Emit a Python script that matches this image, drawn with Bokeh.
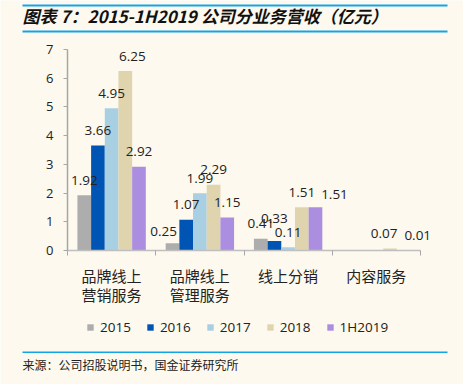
from bokeh.plotting import figure
from bokeh.models import (ColumnDataSource, FixedTicker, Range1d, Legend, LegendItem,
                          Label, BoxAnnotation)
from bokeh.embed import file_html
from bokeh.resources import INLINE
from bokeh.core.properties import value

# ---- data ----
categories = ["品牌线上\n营销服务", "品牌线上\n管理服务", "线上分销", "内容服务"]
series = ["2015", "2016", "2017", "2018", "1H2019"]
v2015 = [1.92, 0.25, 0.41, None]
v2016 = [3.66, 1.07, 0.33, None]
v2017 = [4.95, 1.99, 0.11, None]
v2018 = [6.25, 2.29, 1.51, 0.07]
v1H2019 = [2.92, 1.15, 1.51, 0.01]
values = [v2015, v2016, v2017, v2018, v1H2019]
y_ticks = [0, 1, 2, 3, 4, 5, 6, 7]

title_text = "图表 7：2015-1H2019 公司分业务营收（亿元）"
source_text = "来源：公司招股说明书，国金证券研究所"

# ---- styles / layout ----
colors = ["#ADADAD", "#0055B4", "#A9CFE3", "#E0D4AE", "#AB8EE0"]
BG = "#FDF9EE"
BLUE_LINE = "#12A5E6"
TXT = "#222222"
NUM_FONT = "Open Sans"
CJK_FONT = "Noto Sans CJK SC"
bar_w = 0.155
W, H = 463, 384
# pixel positions of the plotting box (x: 0..4, y: 0..7)
PX_L, PX_R, PX_T, PX_B = 67, 420, 49, 250
XMAX, YMAX = 4, 7
sx = (PX_R - PX_L) / XMAX
sy = (PX_B - PX_T) / YMAX
x_range = Range1d(-PX_L / sx, XMAX + (W - PX_R) / sx)
y_range = Range1d(-(H - PX_B) / sy, YMAX + PX_T / sy)

# per-label nudges in screen px (dx, dy up)
nudge = {(3, 0): (7, 0), (0, 1): (-9, -3), (1, 2): (0, 8), (4, 2): (19, -2),
         (3, 3): (-6, 0), (4, 3): (14, 0)}

p = figure(width=W, height=H, output_backend="svg", toolbar_location=None,
           x_range=x_range, y_range=y_range,
           min_border=0, background_fill_color=BG, border_fill_color=BG)
p.outline_line_color = None
p.grid.visible = False

# y axis
p.yaxis.fixed_location = 0
p.yaxis.bounds = (0, YMAX)
p.yaxis.ticker = FixedTicker(ticks=y_ticks)
p.yaxis.axis_line_color = "#A6A6A6"
p.yaxis.axis_line_width = 1.5
p.yaxis.major_tick_line_color = "#A6A6A6"
p.yaxis.major_tick_out = 4
p.yaxis.major_tick_in = 0
p.yaxis.minor_tick_line_color = None
p.yaxis.major_label_text_font = NUM_FONT
p.yaxis.major_label_text_font_size = "13px"
p.yaxis.major_label_text_color = TXT
p.yaxis.major_label_standoff = 10

# x axis: labels at category centres, ticks at boundaries
centers = [i + 0.5 for i in range(len(categories))]
bounds = [i for i in range(len(categories) + 1)]
p.xaxis.fixed_location = 0
p.xaxis.bounds = (0, XMAX)
p.xaxis.ticker = FixedTicker(ticks=centers, minor_ticks=bounds)
p.xaxis.major_label_overrides = {c: lab for c, lab in zip(centers, categories)}
p.xaxis.axis_line_color = "#BFBFBF"
p.xaxis.axis_line_width = 1.5
p.xaxis.major_tick_line_color = None
p.xaxis.minor_tick_line_color = "#A6A6A6"
p.xaxis.minor_tick_out = 5
p.xaxis.minor_tick_in = 0
p.xaxis.major_label_text_font = CJK_FONT
p.xaxis.major_label_text_font_size = "15px"
p.xaxis.major_label_text_color = TXT
p.xaxis.major_label_text_line_height = 0.92
p.xaxis.major_label_standoff = 8

# bars
items = []
label_srcs = []
for k, (name, vals, col) in enumerate(zip(series, values, colors)):
    xs, tops, labs, dxs, dys = [], [], [], [], []
    for i, v in enumerate(vals):
        if v is None:
            continue
        xs.append(i + 0.5 + (k - 2) * bar_w)
        tops.append(v)
        labs.append(f"{v:.2f}")
        dx, dy = nudge.get((k, i), (0, 0))
        dxs.append(dx)
        dys.append(-15 - dy)
    src = ColumnDataSource(dict(x=xs, top=tops, lab=labs, dx=dxs, dy=dys))
    r = p.vbar(x="x", top="top", width=bar_w, source=src, fill_color=col,
               line_color=None)
    label_srcs.append(src)
    items.append(LegendItem(label=name, renderers=[r]))

for src in label_srcs:
    p.text(x="x", y="top", text="lab", x_offset="dx", y_offset="dy", source=src,
           text_align="center", text_baseline="middle",
           text_font=value(NUM_FONT), text_font_size="13.5px", text_color=TXT)

legend = Legend(items=items, orientation="horizontal", location=(86, 48),
                glyph_width=8, glyph_height=8, label_standoff=6, spacing=15,
                padding=0, margin=0, border_line_color=None,
                background_fill_alpha=0,
                label_text_font=NUM_FONT, label_text_font_size="13.5px",
                label_text_color=TXT, label_height=14)
p.add_layout(legend, "center")


def rule(bottom, top):
    return BoxAnnotation(left=22, right=447, bottom=bottom, top=top,
                         left_units="screen", right_units="screen",
                         bottom_units="screen", top_units="screen",
                         fill_color=BLUE_LINE, fill_alpha=1, line_color=None)


p.add_layout(rule(378, 380))
p.add_layout(rule(352, 354))
p.add_layout(rule(31.5, 33))
p.add_layout(Label(x=22, y=369, x_units="screen", y_units="screen",
                   text=title_text, text_font=CJK_FONT, text_font_size="17px",
                   text_font_style="bold italic", text_color="#111111",
                   text_baseline="middle"))
p.add_layout(Label(x=22, y=20, x_units="screen", y_units="screen",
                   text=source_text, text_font=CJK_FONT, text_font_size="12px",
                   text_color="#222222", text_baseline="middle"))

open("out.html", "w").write(file_html(p, INLINE))
